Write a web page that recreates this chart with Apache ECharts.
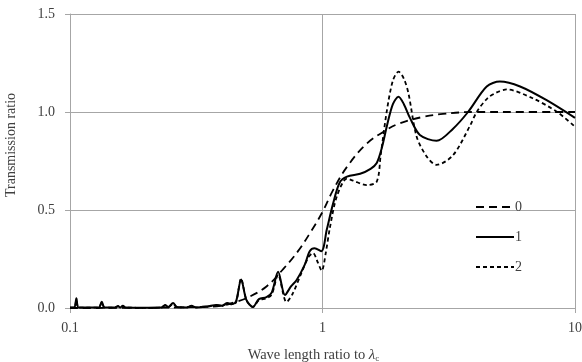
<!DOCTYPE html>
<html><head><meta charset="utf-8">
<script src="https://cdn.jsdelivr.net/npm/echarts@6/dist/echarts.min.js"></script>
<style>html,body{margin:0;padding:0;background:#fff}#c{width:582px;height:362px}</style>
</head><body><div id="c"></div>
<script>
var seriesNames = ['0', '1', '2'];
var xTicks = [0.1, 1, 10];
var yTicks = [0, 0.5, 1.0, 1.5];

var x0 = [0.1, 0.2, 0.3, 0.4, 0.45, 0.5, 0.6, 0.7, 0.8, 0.9, 1.0, 1.1, 1.25, 1.5, 1.75, 2.0, 2.5, 3.0, 4.0, 6.0, 10];
var y0 = [0.0, 0.001, 0.004, 0.012, 0.03, 0.05, 0.11, 0.2, 0.29, 0.39, 0.49, 0.6, 0.72, 0.84, 0.9, 0.94, 0.975, 0.99, 1.0, 1.0, 1.0];

var x1 = [0.1, 0.104, 0.106, 0.108, 0.115, 0.13, 0.1336, 0.137, 0.15, 0.155, 0.158, 0.162, 0.166, 0.2, 0.23, 0.238, 0.245, 0.256, 0.265, 0.29, 0.303, 0.315, 0.35, 0.38, 0.40, 0.42, 0.44, 0.455, 0.476, 0.5, 0.53, 0.56, 0.6, 0.63, 0.667, 0.71, 0.75, 0.79, 0.85, 0.89, 0.93, 0.99, 1.04, 1.1, 1.17, 1.25, 1.41, 1.55, 1.64, 1.72, 1.8, 1.9, 2.0, 2.1, 2.22, 2.43, 2.83, 3.29, 3.77, 4.47, 5.04, 6.06, 7.72, 10];
var y1 = [0.003, 0.003, 0.05, 0.003, 0.002, 0.003, 0.032, 0.003, 0.002, 0.01, 0.002, 0.012, 0.002, 0.001, 0.002, 0.015, 0.005, 0.025, 0.005, 0.003, 0.012, 0.003, 0.008, 0.015, 0.012, 0.025, 0.02, 0.035, 0.145, 0.04, 0.005, 0.045, 0.055, 0.08, 0.185, 0.066, 0.11, 0.143, 0.22, 0.29, 0.305, 0.29, 0.40, 0.53, 0.64, 0.67, 0.685, 0.71, 0.74, 0.82, 0.93, 1.04, 1.078, 1.04, 0.97, 0.883, 0.853, 0.915, 1.0, 1.13, 1.155, 1.13, 1.06, 0.97];

var x2 = [0.1, 0.104, 0.106, 0.108, 0.115, 0.13, 0.1336, 0.137, 0.15, 0.155, 0.158, 0.162, 0.166, 0.2, 0.23, 0.238, 0.245, 0.256, 0.265, 0.29, 0.303, 0.315, 0.35, 0.38, 0.40, 0.42, 0.44, 0.455, 0.476, 0.5, 0.53, 0.56, 0.6, 0.63, 0.667, 0.72, 0.76, 0.82, 0.88, 0.917, 0.96, 0.993, 1.03, 1.07, 1.14, 1.25, 1.32, 1.5, 1.64, 1.7, 1.8, 1.9, 2.0, 2.1, 2.19, 2.36, 2.59, 2.83, 3.29, 3.84, 4.08, 4.5, 4.9, 5.36, 6.8, 8.5, 10];
var y2 = [0.002, 0.002, 0.04, 0.002, 0.002, 0.002, 0.028, 0.002, 0.002, 0.008, 0.002, 0.01, 0.002, 0.001, 0.002, 0.013, 0.004, 0.022, 0.004, 0.003, 0.01, 0.003, 0.007, 0.013, 0.01, 0.022, 0.018, 0.03, 0.15, 0.04, 0.005, 0.04, 0.05, 0.07, 0.17, 0.03, 0.07, 0.17, 0.26, 0.28, 0.23, 0.19, 0.28, 0.41, 0.57, 0.66, 0.65, 0.627, 0.645, 0.78, 1.01, 1.16, 1.206, 1.17, 1.095, 0.874, 0.772, 0.73, 0.78, 0.93, 1.0, 1.07, 1.10, 1.115, 1.07, 1.0, 0.925];

function pairs(xs, ys) { return xs.map(function (x, i) { return [x, ys[i]]; }); }

var FONT = '"Liberation Serif", "DejaVu Serif", serif';
var TXT = '#404040';
var GRID = '#a6a6a6';

var chart = echarts.init(document.getElementById('c'), null, { renderer: 'canvas' });
chart.setOption({
  animation: false,
  backgroundColor: '#fff',
  grid: { left: 70, right: 7, top: 14, bottom: 54, containLabel: false, outerBoundsMode: 'none' },
  legend: {
    orient: 'vertical',
    left: 470, top: 195,
    itemWidth: 38, itemHeight: 14, itemGap: 16,
    data: seriesNames,
    itemStyle: { opacity: 0 },
    textStyle: { fontFamily: FONT, fontSize: 14, color: TXT, padding: [0, 0, 0, -4] }
  },
  xAxis: {
    type: 'log', logBase: 10, min: xTicks[0], max: xTicks[xTicks.length - 1],
    axisLine: { show: true, onZero: false, lineStyle: { color: GRID, width: 1 } },
    axisTick: { show: true, length: 5, lineStyle: { color: GRID } },
    splitLine: { show: true, lineStyle: { color: GRID, width: 1 } },
    minorTick: { show: false },
    axisLabel: { fontFamily: FONT, fontSize: 14, color: TXT, margin: 13,
      formatter: function (v) { return v < 1 ? '0.1' : String(Math.round(v)); } },
    name: '{a|Wave length ratio to }{b|λ}{c|c}',
    nameLocation: 'middle', nameGap: 40,
    nameTextStyle: { fontFamily: FONT, fontSize: 14, color: TXT, padding: [0, 18, 0, 0],
      rich: {
        a: { fontFamily: FONT, fontSize: 14.5, color: TXT },
        b: { fontFamily: FONT, fontSize: 15, color: TXT, fontStyle: 'italic' },
        c: { fontFamily: FONT, fontSize: 9, color: TXT, verticalAlign: 'bottom', padding: [6, 0, 0, 0] }
      } }
  },
  yAxis: {
    type: 'value', min: yTicks[0], max: yTicks[yTicks.length - 1], interval: 0.5,
    axisLine: { show: true, lineStyle: { color: GRID, width: 1 } },
    axisTick: { show: true, length: 5, lineStyle: { color: GRID } },
    splitLine: { show: true, lineStyle: { color: GRID, width: 1 } },
    axisLabel: { fontFamily: FONT, fontSize: 14, color: TXT, margin: 15,
      formatter: function (v) { return v.toFixed(1); } },
    name: 'Transmission ratio', nameLocation: 'middle', nameGap: 52,
    nameTextStyle: { fontFamily: FONT, fontSize: 14, color: TXT, padding: [0, 0, 0, 32] }
  },
  series: [
    { name: seriesNames[0], type: 'line', data: pairs(x0, y0), showSymbol: false, symbol: 'none', smooth: 0.4,
      lineStyle: { color: '#000', width: 1.8, type: [8, 5] }, itemStyle: { color: '#000' } },
    { name: seriesNames[1], type: 'line', data: pairs(x1, y1), showSymbol: false, symbol: 'none', smooth: 0.3,
      lineStyle: { color: '#000', width: 2 }, itemStyle: { color: '#000' } },
    { name: seriesNames[2], type: 'line', data: pairs(x2, y2), showSymbol: false, symbol: 'none', smooth: 0.3,
      lineStyle: { color: '#000', width: 1.8, type: [4, 3] }, itemStyle: { color: '#000' } }
  ]
});
</script></body></html>
